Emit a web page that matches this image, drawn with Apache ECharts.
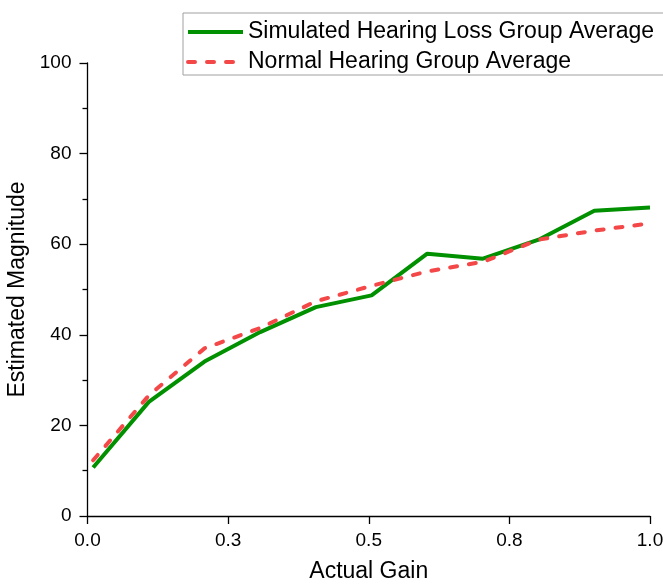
<!DOCTYPE html>
<html>
<head>
<meta charset="utf-8">
<script src="https://cdn.jsdelivr.net/npm/echarts@6/dist/echarts.min.js"></script>
<style>
html,body{margin:0;padding:0;background:#fff;}
#chart{width:663px;height:584px;}
</style>
</head>
<body>
<div id="chart"></div>
<script>
const gains = [0.01, 0.109, 0.208, 0.307, 0.406, 0.505, 0.604, 0.703, 0.802, 0.901, 1.0];
const simulatedLoss = [10.7, 25.2, 34.1, 40.6, 46.1, 48.7, 57.9, 56.8, 61.0, 67.4, 68.1];
const normalHearing = [12.3, 26.6, 37.0, 41.5, 47.4, 50.8, 54.0, 56.1, 61.0, 63.0, 64.6];
const xTickLabels = ['0.0', '0.3', '0.5', '0.8', '1.0'];
const seriesNames = ['Simulated Hearing Loss Group Average', 'Normal Hearing Group Average'];

const font = 'Liberation Sans, Arial, sans-serif';
const chart = echarts.init(document.getElementById('chart'), null, {renderer: 'canvas'});
chart.setOption({
  animation: false,
  backgroundColor: '#fff',
  grid: {left: 87.5, right: 13, top: 63, bottom: 68, containLabel: false, outerBoundsMode: 'none'},
  legend: {
    orient: 'vertical',
    left: 183, top: 13,
    padding: [7.5, 40, 1.5, 3],
    itemGap: 7,
    itemWidth: 55, itemHeight: 14,
    borderColor: '#a0a0a0', borderWidth: 1,
    itemStyle: {opacity: 0},
    lineStyle: {width: 4},
    textStyle: {fontFamily: font, fontSize: 23, color: '#000'},
    data: seriesNames
  },
  xAxis: {
    type: 'value', min: 0, max: 1, interval: 0.25,
    name: 'Actual Gain', nameLocation: 'middle', nameGap: 44,
    nameTextStyle: {fontFamily: font, fontSize: 23, color: '#000'},
    axisLine: {onZero: false, lineStyle: {color: '#000', width: 1.3}},
    axisTick: {length: 8, lineStyle: {color: '#000', width: 1.3}},
    axisLabel: {fontFamily: font, fontSize: 19, color: '#000', margin: 15,
      formatter: (v) => xTickLabels[Math.round(v / 0.25)]},
    splitLine: {show: false}
  },
  yAxis: {
    type: 'value', min: 0, max: 100, interval: 20,
    name: 'Estimated Magnitude', nameLocation: 'middle', nameGap: 53,
    nameTextStyle: {fontFamily: font, fontSize: 23, color: '#000'},
    axisLine: {show: true, lineStyle: {color: '#000', width: 1.3}},
    axisTick: {show: true, length: 8, lineStyle: {color: '#000', width: 1.3}},
    minorTick: {show: true, splitNumber: 2, length: 5, lineStyle: {color: '#000', width: 1.3}},
    axisLabel: {fontFamily: font, fontSize: 19, color: '#000', margin: 16},
    splitLine: {show: false}
  },
  series: [
    {
      name: seriesNames[0], type: 'line', symbol: 'none',
      data: gains.map((g, i) => [g, simulatedLoss[i]]),
      lineStyle: {color: '#009000', width: 4},
      itemStyle: {color: '#009000'}
    },
    {
      name: seriesNames[1], type: 'line', symbol: 'none',
      data: gains.map((g, i) => [g, normalHearing[i]]),
      lineStyle: {color: '#f44848', width: 4, type: [7, 12], cap: 'round'},
      itemStyle: {color: '#f44848'}
    }
  ]
});
</script>
</body>
</html>
